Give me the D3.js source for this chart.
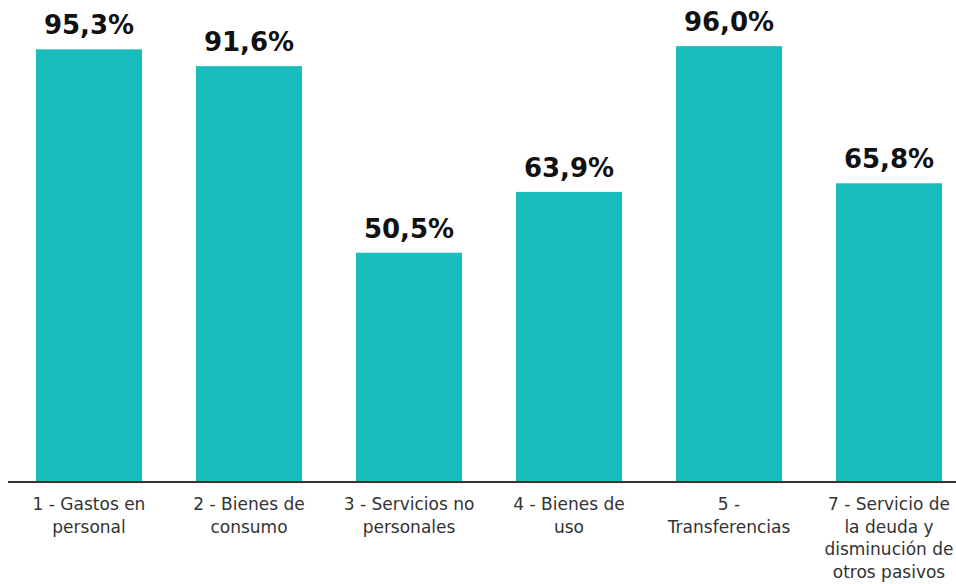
<!DOCTYPE html>
<html>
<head>
<meta charset="utf-8">
<script src="https://cdn.jsdelivr.net/npm/d3@7"></script>
<style>
  body { margin: 0; background: #fff; }
  svg { display: block; }
</style>
</head>
<body>
<div id="chart"></div>
<script>
// Chart dimensions.
const width = 956;
const height = 584;
const baseline = 482;

// Data.
const categories = ["1", "2", "3", "4", "5", "7"];
const values = [95.3, 91.6, 50.5, 63.9, 96.0, 65.8];
const valueLabels = ["95,3%", "91,6%", "50,5%", "63,9%", "96,0%", "65,8%"];
const tickLines = [
    ["1 - Gastos en", "personal"],
    ["2 - Bienes de", "consumo"],
    ["3 - Servicios no", "personales"],
    ["4 - Bienes de", "uso"],
    ["5 -", "Transferencias"],
    ["7 - Servicio de", "la deuda y", "disminución de", "otros pasivos"]
];

const data = categories.map((c, i) => ({ cat: c, value: values[i], label: valueLabels[i], lines: tickLines[i] }));

const svg = d3.select("#chart").append("svg")
    .attr("width", width)
    .attr("height", height);

const x = d3.scaleBand()
    .domain(categories)
    .range([9, 969])
    .paddingInner(0.3375)
    .paddingOuter(0.16875);

const y = d3.scaleLinear()
    .domain([0, 100])
    .range([baseline, baseline - 454]);

// Bars
svg.selectAll("rect.bar")
    .data(data)
    .enter()
    .append("rect")
    .attr("class", "bar")
    .attr("x", d => x(d.cat))
    .attr("y", d => y(d.value))
    .attr("width", x.bandwidth())
    .attr("height", d => baseline - y(d.value))
    .attr("fill", "#19BDBD");

// Value labels
svg.selectAll("text.value")
    .data(data)
    .enter()
    .append("text")
    .attr("class", "value")
    .attr("x", d => x(d.cat) + x.bandwidth() / 2)
    .attr("y", d => y(d.value) - 15)
    .attr("text-anchor", "middle")
    .attr("font-family", "DejaVu Sans")
    .attr("font-weight", "bold")
    .attr("font-size", 26)
    .attr("fill", "#111")
    .text(d => d.label);

// Axis
const axis = svg.append("g")
    .attr("transform", `translate(0,${baseline})`)
    .call(d3.axisBottom(x).tickSize(0).tickFormat(""));
axis.select(".domain").attr("d", "M8,0H960").attr("stroke", "#333").attr("stroke-width", 2);

// Multi-line category labels
const ticks = svg.selectAll("text.tick-label")
    .data(data)
    .enter()
    .append("text")
    .attr("class", "tick-label")
    .attr("text-anchor", "middle")
    .attr("font-family", "DejaVu Sans")
    .attr("font-size", 17)
    .attr("fill", "#333");

ticks.selectAll("tspan")
    .data(d => d.lines.map(l => ({ cat: d.cat, line: l })))
    .enter()
    .append("tspan")
    .attr("x", d => x(d.cat) + x.bandwidth() / 2)
    .attr("y", (d, i) => 510 + i * 22.5)
    .text(d => d.line);
</script>
</body>
</html>
